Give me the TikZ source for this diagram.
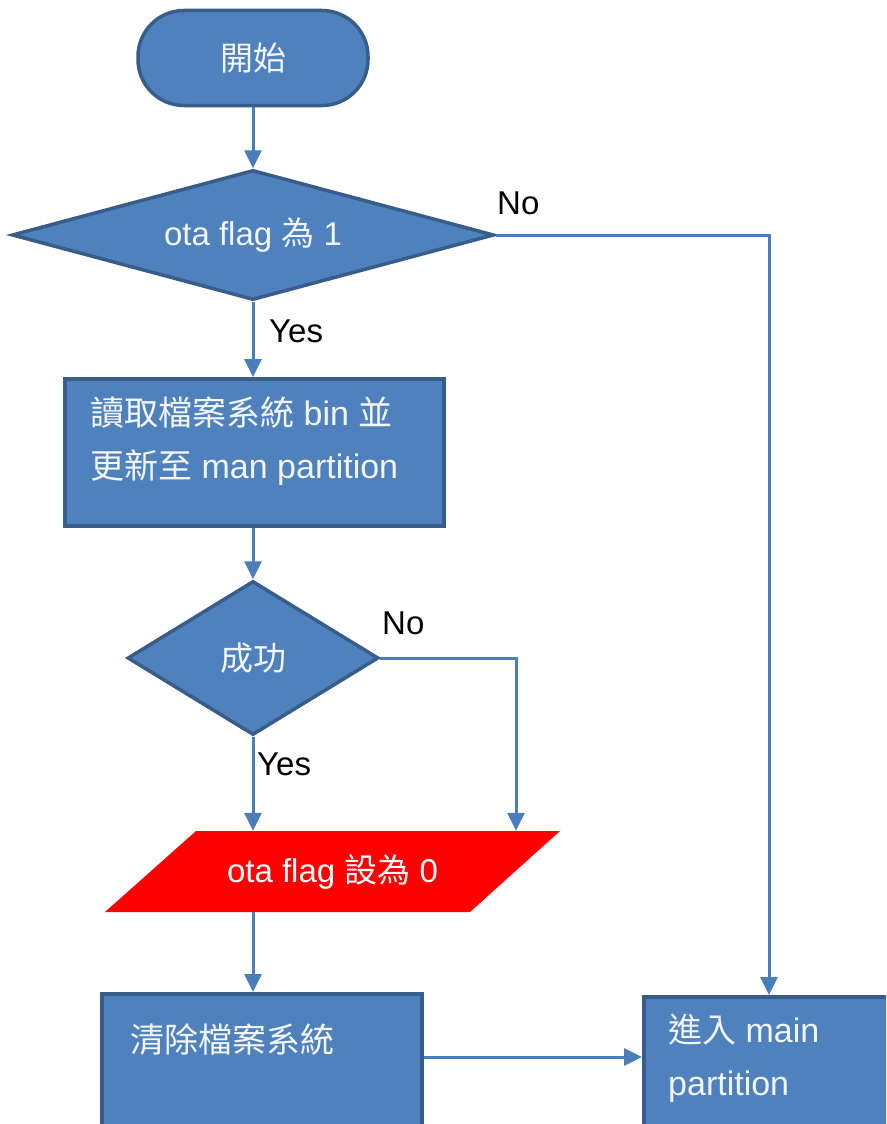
\documentclass[tikz,border=0pt]{standalone}
\usepackage{fontspec}
\setmainfont{Liberation Sans}
\newfontfamily\cjk{Noto Sans CJK TC}
\usetikzlibrary{shapes.geometric,arrows.meta}
\definecolor{boxfill}{HTML}{4F81BD}
\definecolor{boxedge}{HTML}{385D8A}
\definecolor{flow}{HTML}{4A7EBB}
\definecolor{alert}{HTML}{FF0000}
\definecolor{boxink}{HTML}{F2F5FA}

\begin{document}
\begin{tikzpicture}[x=1pt,y=-1pt,
  shapebox/.style={fill=boxfill, draw=boxedge, line width=3.5pt, inner sep=0pt},
  proc/.style={shapebox, rectangle, anchor=north west},
  dec/.style={shapebox, diamond, text=boxink, font=\fontsize{33}{38}\selectfont},
  boxtext/.style={text=boxink, font=\fontsize{34}{40}\selectfont, anchor=base west, inner sep=0pt},
  flowline/.style={draw=flow, line width=3pt},
  flowarrow/.style={flowline, -{Triangle[width=17pt,length=18pt]}},
  answer/.style={font=\fontsize{33}{38}\selectfont, text=black, inner sep=0pt, anchor=west}
]
\useasboundingbox (0,0) rectangle (886,1124);
\clip (0,0) rectangle (886,1124);
\fill[white] (0,0) rectangle (886,1124);

% start terminal
\node[shapebox, rounded corners=46pt, minimum width=230pt, minimum height=95pt,
      text=boxink, font=\fontsize{33}{38}\selectfont] (start) at (253,58) {\cjk 開始};

% first decision
\node[dec, minimum width=482pt, minimum height=130pt, aspect=3.7] (d1) at (253,235)
  {ota flag {\cjk 為} 1};

% read and update
\node[proc, minimum width=379pt, minimum height=147pt] (read) at (63,377) {};
\node[boxtext] (readA) at (90,425) {{\cjk 讀取檔案系統} bin {\cjk 並}};
\node[boxtext] (readB) at (90,478) {{\cjk 更新至} man partition};

% second decision
\node[dec, minimum width=251pt, minimum height=154pt, aspect=1.63] (d2) at (253,658)
  {\cjk 成功};

% reset flag (parallelogram)
\fill[alert] (196,831) -- (560,831) -- (470,912) -- (105,912) -- cycle;
\node[inner sep=0pt, minimum width=364pt, minimum height=81pt, text=white,
      font=\fontsize{33}{38}\selectfont] (reset) at (332.5,871.5) {ota flag {\cjk 設為} 0};

% clear file system
\node[proc, minimum width=320pt, minimum height=170pt] (clear) at (100,992) {};
\node[boxtext] (clearA) at (130,1052) {\cjk 清除檔案系統};

% enter main partition
\node[proc, minimum width=270pt, minimum height=150pt] (enter) at (642,995) {};
\node[boxtext] (enterA) at (668,1042) {{\cjk 進入} main};
\node[boxtext] (enterB) at (668,1095) {partition};

% connectors
\coordinate (c1) at (769,235);
\coordinate (c2) at (516,658);
\coordinate (c3) at (0,1057);

\draw[flowarrow] (start.south) -- (d1.north);
\draw[flowarrow] (d1.south) -- (d1.south |- read.north);
\draw[flowarrow] (d1.east) -- (c1) -- (c1 |- enter.north);
\draw[flowarrow] (d2.north |- read.south) -- (d2.north);
\draw[flowarrow] (d2.south) -- (d2.south |- reset.north);
\draw[flowarrow] (d2.east) -- (c2) -- (c2 |- reset.north);
\draw[flowarrow] (d2.south |- reset.south) -- (d2.south |- clear.north);
\draw[flowarrow] (clear.east |- c3) -- (enter.west |- c3);

% branch labels
\node[answer] (no1) at (497,203) {No};
\node[answer] (yes1) at (269,331) {Yes};
\node[answer] (no2) at (382,623) {No};
\node[answer] (yes2) at (257,764) {Yes};
\end{tikzpicture}
\end{document}
